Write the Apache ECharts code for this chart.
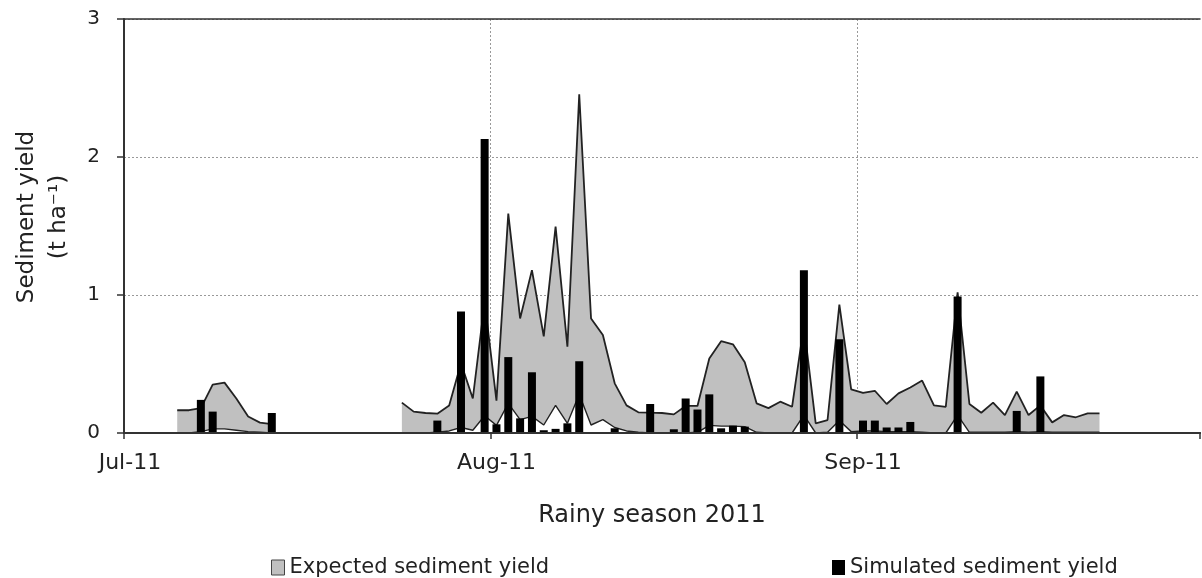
<!DOCTYPE html>
<html><head><meta charset="utf-8">
<script src="https://cdn.jsdelivr.net/npm/echarts@6/dist/echarts.min.js"></script>
<style>html,body{margin:0;padding:0;background:#fff}#c{width:1202px;height:578px}</style>
</head><body><div id="c"></div>
<script>
// categories: daily, 1 Jul 2011 .. 29 Sep 2011 (91 days)
const days = [];
for (let i = 0; i < 91; i++) {
  const d = new Date(Date.UTC(2011, 6, 1 + i));
  days.push(d.toISOString().slice(0, 10));
}
const tickIndex = [0, 31, 62];
const tickLabels = ['Jul-11', 'Aug-11', 'Sep-11'];
const yTicks = [0, 1, 2, 3];

// expected sediment yield, upper envelope (t/ha)
const expectedMax = [
  null, null, null, null, 0.165, 0.165, 0.18, 0.35, 0.365, 0.25,      // 0-9
  0.12, 0.075, 0.065, null, null, null, null, null, null, null,       // 10-19
  null, null, null, 0.22, 0.155, 0.145, 0.14, 0.2, 0.505, 0.25,       // 20-29
  0.95, 0.235, 1.59, 0.83, 1.18, 0.70, 1.495, 0.625, 2.455, 0.83,     // 30-39
  0.71, 0.36, 0.2, 0.15, 0.147, 0.145, 0.135, 0.196, 0.196, 0.54,     // 40-49
  0.665, 0.643, 0.512, 0.215, 0.18, 0.227, 0.19, 0.78, 0.07, 0.094,   // 50-59
  0.93, 0.316, 0.29, 0.306, 0.21, 0.287, 0.33, 0.38, 0.2, 0.19,       // 60-69
  1.02, 0.21, 0.147, 0.22, 0.13, 0.3, 0.13, 0.2, 0.077, 0.13,         // 70-79
  0.114, 0.142, 0.142, null, null, null, null, null, null, null,      // 80-89
  null                                                                 // 90
];
// expected sediment yield, lower envelope (t/ha)
const expectedMin = [
  null, null, null, null, 0, 0, 0.01, 0.03, 0.03, 0.02,               // 0-9
  0.01, 0.005, 0, null, null, null, null, null, null, null,           // 10-19
  null, null, null, 0, 0, 0, 0.005, 0.015, 0.04, 0.02,                // 20-29
  0.125, 0.055, 0.215, 0.097, 0.12, 0.058, 0.2, 0.07, 0.28, 0.058,    // 30-39
  0.097, 0.04, 0.015, 0.005, 0, 0, 0, 0, 0.005, 0.055,                // 40-49
  0.05, 0.05, 0.046, 0.005, 0, 0, 0, 0.13, 0, 0.005,                  // 50-59
  0.09, 0.01, 0.015, 0.015, 0.01, 0.01, 0.01, 0.005, 0, 0,            // 60-69
  0.13, 0.005, 0.005, 0.005, 0.005, 0.01, 0.005, 0.01, 0.005, 0.005,  // 70-79
  0.005, 0.005, 0.005, null, null, null, null, null, null, null,      // 80-89
  null                                                                 // 90
];
// simulated sediment yield (t/ha)
const simulated = [
  null, null, null, null, null, null, 0.24, 0.155, null, null,        // 0-9
  null, null, 0.145, null, null, null, null, null, null, null,        // 10-19
  null, null, null, null, null, null, 0.09, null, 0.88, null,         // 20-29
  2.13, 0.063, 0.55, 0.106, 0.44, 0.02, 0.03, 0.07, 0.52, null,       // 30-39
  null, 0.034, null, null, 0.21, null, 0.027, 0.25, 0.17, 0.28,       // 40-49
  0.034, 0.053, 0.046, null, null, null, null, 1.18, null, null,      // 50-59
  0.68, null, 0.09, 0.09, 0.04, 0.04, 0.08, null, null, null,         // 60-69
  0.99, null, null, null, null, 0.16, null, 0.41, null, null,         // 70-79
  null, null, null, null, null, null, null, null, null, null,         // 80-89
  null                                                                 // 90
];

const FONT = 'DejaVu Sans';
const TXT = '#222';
const isTick = (i) => tickIndex.includes(i);

const chart = echarts.init(document.getElementById('c'));
chart.setOption({
  animation: false,
  textStyle: { fontFamily: FONT, color: TXT },
  grid: { left: 124, right: 2, top: 19, bottom: 145 },
  legend: [
    {
      left: 266, top: 552, itemWidth: 13, itemHeight: 15,
      textStyle: { fontSize: 21, fontFamily: FONT, color: TXT },
      data: [{ name: 'Expected sediment yield', icon: 'rect',
        itemStyle: { color: '#c0c0c0', borderColor: '#444', borderWidth: 1 } }]
    },
    {
      left: 827, top: 552, itemWidth: 13, itemHeight: 15,
      textStyle: { fontSize: 21, fontFamily: FONT, color: TXT },
      data: [{ name: 'Simulated sediment yield', icon: 'rect',
        itemStyle: { color: '#000' } }]
    }
  ],
  xAxis: [
    {
      type: 'category', data: days, boundaryGap: true,
      axisLine: { show: true, lineStyle: { color: '#333', width: 2 } },
      axisTick: { show: true, interval: isTick, length: 6, lineStyle: { color: '#333', width: 1.5 } },
      axisLabel: {
        interval: isTick,
        formatter: (v, i) => tickLabels[tickIndex.indexOf(i)] || '',
        fontSize: 22, margin: 19, color: TXT, fontFamily: FONT
      },
      splitLine: {
        show: true, interval: isTick,
        lineStyle: { type: [2, 2], width: 1, color: ['#999', '#999', '#999', 'rgba(0,0,0,0)'] }
      },
      name: 'Rainy season 2011', nameLocation: 'middle', nameGap: 71,
      nameTextStyle: { fontSize: 24, padding: [0, 20, 0, 0], color: TXT, fontFamily: FONT }
    },
    {
      type: 'category', data: days, position: 'top',
      axisLine: { show: true, lineStyle: { color: '#333', width: 1.5 } },
      axisTick: { show: false }, axisLabel: { show: false }, splitLine: { show: false }
    },
    {
      type: 'category', data: days, position: 'bottom', offset: 0, z: 10,
      axisLine: { show: true, lineStyle: { color: '#333', width: 2 } },
      axisTick: { show: false }, axisLabel: { show: false }, splitLine: { show: false }
    }
  ],
  yAxis: {
    type: 'value', min: yTicks[0], max: yTicks[yTicks.length - 1], interval: 1,
    axisLine: { show: true, lineStyle: { color: '#333', width: 2 } },
    axisTick: { show: true, length: 7, lineStyle: { color: '#333', width: 1.5 } },
    axisLabel: { fontSize: 20, margin: 24, color: TXT, fontFamily: FONT },
    splitLine: { show: true, lineStyle: { type: [2, 2], width: 1, color: '#999' } },
    name: 'Sediment yield\n(t ha\u207B\u00B9)', nameLocation: 'middle', nameGap: 49,
    nameTextStyle: { fontSize: 23, lineHeight: 32, padding: [0, 0, 0, 18], color: TXT, fontFamily: FONT }
  },
  series: [
    {
      name: 'Expected sediment yield', type: 'line', data: expectedMax,
      symbol: 'none', showSymbol: false, connectNulls: false, z: 2,
      itemStyle: { color: '#c0c0c0' },
      lineStyle: { color: '#222', width: 1.8 },
      areaStyle: { color: '#c0c0c0', opacity: 1 }
    },
    {
      name: 'Expected minimum', type: 'line', data: expectedMin,
      symbol: 'none', showSymbol: false, connectNulls: false, z: 3,
      itemStyle: { color: '#ffffff' },
      lineStyle: { color: '#222', width: 1.4 },
      areaStyle: { color: '#ffffff', opacity: 1 }
    },
    {
      name: 'Simulated sediment yield', type: 'bar', data: simulated,
      barWidth: 8, z: 4, itemStyle: { color: '#000' }
    }
  ]
});
</script>
</body></html>
